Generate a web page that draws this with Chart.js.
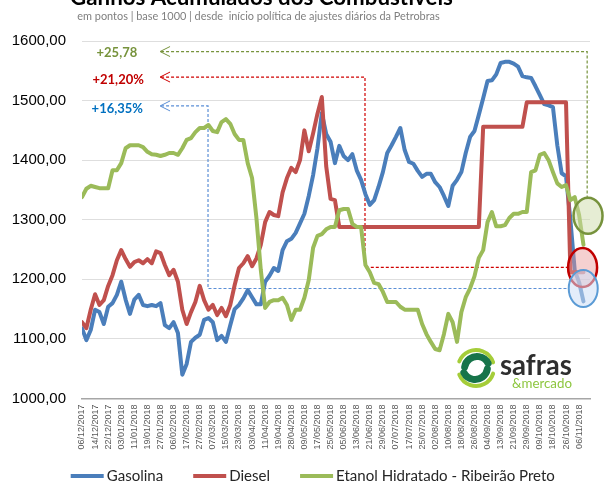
<!DOCTYPE html>
<html><head><meta charset="utf-8">
<script src="https://cdn.jsdelivr.net/npm/chart.js@4.4.1/dist/chart.umd.min.js"></script>
<style>html,body{margin:0;padding:0;background:#fff;overflow:hidden}#wrap{width:604px;height:484px;position:relative}</style>
</head><body><div id="wrap"><canvas id="c" width="604" height="484"></canvas></div>
<script>
// ---------- DATA ----------
const tickLabels = ['06/12/2017','14/12/2017','22/12/2017','03/01/2018','11/01/2018','19/01/2018','27/01/2018','06/02/2018','17/02/2018','27/02/2018','07/03/2018','15/03/2018','23/03/2018','03/04/2018','11/04/2018','19/04/2018','28/04/2018','09/05/2018','17/05/2018','25/05/2018','05/06/2018','13/06/2018','21/06/2018','29/06/2018','07/07/2018','17/07/2018','25/07/2018','02/08/2018','10/08/2018','18/08/2018','26/08/2018','04/09/2018','13/09/2018','21/09/2018','29/09/2018','09/10/2018','18/10/2018','26/10/2018','06/11/2018'];
const seriesNames = ['Gasolina','Diesel','Etanol Hidratado - Ribeirão Preto'];
// one value every 2 business days (tick labels every 6 business days)
const gasolina = [1118,1098,1115,1149,1145,1125,1154,1160,1174,1196,
1166,1142,1166,1174,1157,1155,1157,1155,1160,1123,
1118,1128,1110,1040,1058,1095,1102,1107,1132,1135,
1128,1098,1105,1095,1123,1150,1157,1168,1182,1170,
1158,1158,1196,1206,1219,1214,1249,1264,1268,1278,
1294,1310,1340,1375,1420,1479,1444,1431,1395,1424,
1407,1400,1410,1383,1367,1343,1325,1333,1355,1380,
1412,1425,1439,1454,1417,1397,1394,1382,1372,1377,
1377,1363,1355,1340,1323,1357,1367,1380,1412,1439,
1449,1476,1504,1533,1534,1544,1563,1565,1565,1562,
1557,1541,1539,1538,1524,1509,1494,1492,1489,1425,
1378,1373,1300,1215,1195,1163];
const diesel = [1128,1118,1149,1175,1157,1165,1189,1207,1232,1249,
1234,1221,1229,1232,1227,1234,1227,1247,1244,1224,
1207,1216,1196,1149,1125,1145,1162,1189,1165,1149,
1157,1140,1152,1138,1157,1190,1219,1227,1239,1222,
1235,1258,1296,1313,1308,1306,1346,1370,1387,1380,
1400,1450,1415,1445,1478,1506,1390,1335,1333,1288,
1288,1288,1288,1288,1288,1288,1288,1288,1288,1288,
1288,1288,1288,1288,1288,1288,1288,1288,1288,1288,
1288,1288,1288,1288,1288,1288,1288,1288,1288,1288,
1288,1288,1456,1456,1456,1456,1456,1456,1456,1456,
1456,1456,1497,1497,1497,1497,1497,1497,1497,1497,
1497,1497,1212,1212,1212,1212];
const etanol = [1338,1352,1357,1355,1353,1353,1353,1383,1383,1395,
1420,1425,1425,1425,1422,1414,1410,1409,1407,1409,
1412,1412,1409,1420,1434,1437,1447,1454,1454,1459,
1449,1447,1464,1469,1461,1444,1434,1434,1395,1370,
1303,1216,1152,1162,1165,1165,1169,1157,1132,1149,
1149,1169,1199,1253,1273,1276,1284,1288,1288,1316,
1318,1318,1293,1288,1288,1224,1212,1194,1192,1179,
1162,1162,1162,1154,1149,1149,1149,1149,1125,1108,
1095,1083,1081,1108,1142,1128,1095,1145,1170,1185,
1205,1236,1249,1296,1313,1289,1289,1291,1303,1310,
1310,1313,1313,1380,1383,1409,1412,1400,1380,1361,
1355,1358,1333,1338,1308,1258];
const STEP = 2;          // business days per sample
const LABEL_EVERY = 6;   // business days per tick label
const changes = ['+16,35%','+21,20%','+25,78'];

// ---------- STYLE ----------
const lineColors = ['#4a7ebb','#c0504d','#9bbb59'];
const noteColors = ['#0070c0','#c00000','#77933c'];
const dashColors = ['#5b8fd6','#d00000','#77933c'];

const toXY = arr => arr.map((v,j)=>({x:j*STEP, y:v}));

// annotation geometry in data units (x: business-day index, y: points)
const notes = [
  {text:changes[0], tx:16.2, ty:1486, level:1491, cornerX:57.8, low:1184.6, endX:222.9, ex:229.9, ey:1184.6},
  {text:changes[1], tx:16.6, ty:1535, level:1539.5, cornerX:129.8, low:1220.2, endX:222.9, ex:229.6, ey:1219.8},
  {text:changes[2], tx:16.0, ty:1581, level:1582.3, cornerX:231.7, low:1338, endX:null, ex:232.1, ey:1306.7}
];
const ARROW_X = 35.8;

function fitSize(ctx, text, weight, family, target){
  ctx.font = `${weight} 20px ${family}`;
  return 20*target/ctx.measureText(text).width;
}

const decor = {
  id:'decor',
  beforeDraw(chart){
    const c=chart.ctx; c.save(); c.fillStyle='#fff'; c.fillRect(0,0,chart.width,chart.height); c.restore();
  },
  beforeDatasetsDraw(chart){
    const c=chart.ctx, X=v=>chart.scales.x.getPixelForValue(v), Y=v=>chart.scales.y.getPixelForValue(v);
    c.save();
    notes.forEach((n,k)=>{
      c.strokeStyle=dashColors[k]; c.lineWidth=1.2; c.setLineDash([3,2]);
      c.beginPath();
      c.moveTo(X(ARROW_X)+1, Y(n.level));
      c.lineTo(X(n.cornerX), Y(n.level));
      c.lineTo(X(n.cornerX), Y(n.low));
      if(n.endX!==null) c.lineTo(X(n.endX), Y(n.low));
      c.stroke();
      c.setLineDash([]); c.lineWidth=1;
      const ax=X(ARROW_X), ay=Y(n.level);
      c.beginPath(); c.moveTo(ax+10, ay-5); c.lineTo(ax, ay); c.lineTo(ax+10, ay+5); c.stroke();
    });
    c.restore();
  },
  afterDatasetsDraw(chart){
    const c=chart.ctx, X=v=>chart.scales.x.getPixelForValue(v), Y=v=>chart.scales.y.getPixelForValue(v);
    const fills=['rgba(205,222,245,0.55)','rgba(232,150,150,0.45)','rgba(205,220,170,0.5)'];
    const rys=[18.5,19.5,18];
    c.save();
    [2,1,0].forEach(k=>{
      const n=notes[k];
      c.beginPath(); c.ellipse(X(n.ex), Y(n.ey), 14.5, rys[k], 0, 0, Math.PI*2);
      c.fillStyle=fills[k]; c.fill();
      c.lineWidth = k===0?2:2.5; c.strokeStyle = k===0?'#5b9bd5':(k===1?'#c00000':'#76923c'); c.stroke();
    });
    c.restore();
  },
  afterDraw(chart){
    const c=chart.ctx, X=v=>chart.scales.x.getPixelForValue(v), Y=v=>chart.scales.y.getPixelForValue(v);
    c.save();
    // title (cut at top) and subtitle
    const title='Ganhos Acumulados dos Combustíveis';
    let s=fitSize(c,title,'bold','Lato',383);
    c.font=`bold ${s}px Lato`; c.fillStyle='#000'; c.textAlign='center'; c.textBaseline='alphabetic';
    c.fillText(title, 261.5, 4.5);
    const sub='em pontos | base 1000 | desde  início política de ajustes diários da Petrobras';
    s=fitSize(c,sub,'normal','Lato',363);
    c.font=`${s}px Lato`; c.fillStyle='#7f7f7f';
    c.fillText(sub, 258.5, 19.5);
    // change labels
    c.font='bold 13px Lato'; c.textBaseline='middle';
    notes.forEach((n,k)=>{ c.fillStyle=noteColors[k]; c.fillText(n.text, X(n.tx), Y(n.ty)); });
    // legend
    s=fitSize(c,seriesNames[2],'normal','Lato',219);
    c.font=`${s}px Lato`; c.textAlign='left'; c.textBaseline='middle';
    let lx=70.7; const ly=476;
    seriesNames.forEach((name,k)=>{
      c.fillStyle=lineColors[k]; c.fillRect(lx, ly-2, 33, 4);
      c.fillStyle='#262626'; c.fillText(name, lx+36, ly+0.5);
      lx += 36 + c.measureText(name).width + 30;
    });
    // logo
    const cx=476, cy=368;
    c.lineCap='round';
    c.strokeStyle='#a5cd39'; c.lineWidth=4;
    c.beginPath(); c.arc(cx,cy,18,Math.PI*1.12,Math.PI*1.9); c.stroke();
    c.beginPath(); c.arc(cx,cy,18,Math.PI*0.1,Math.PI*0.88); c.stroke();
    c.strokeStyle='#17744a'; c.lineWidth=7;
    c.beginPath(); c.arc(cx+1,cy+1,12.5,Math.PI*1.05,Math.PI*1.85); c.stroke();
    c.beginPath(); c.arc(cx-1,cy-1,12.5,Math.PI*0.05,Math.PI*0.85); c.stroke();
    s=fitSize(c,'safras','bold','Lato',72);
    c.font=`bold ${s}px Lato`; c.fillStyle='#2e2e2e'; c.textAlign='left'; c.textBaseline='alphabetic';
    c.fillText('safras', 500, 375);
    s=fitSize(c,'&mercado','normal','Lato',60);
    c.font=`${s}px Lato`; c.fillStyle='#8dc63f';
    c.fillText('&mercado', 512, 388);
    c.restore();
  }
};

new Chart(document.getElementById('c'), {
  type:'line',
  data:{ datasets:[
    {label:seriesNames[0], data:toXY(gasolina), borderColor:lineColors[0], backgroundColor:lineColors[0], order:2},
    {label:seriesNames[1], data:toXY(diesel),   borderColor:lineColors[1], backgroundColor:lineColors[1], order:1},
    {label:seriesNames[2], data:toXY(etanol),   borderColor:lineColors[2], backgroundColor:lineColors[2], order:0}
  ]},
  options:{
    responsive:false, animation:false, devicePixelRatio:1,
    elements:{ line:{borderWidth:4, tension:0, borderJoinStyle:'round', borderCapStyle:'round'}, point:{radius:0, hoverRadius:0} },
    layout:{ padding:{top:41, right:14, left:0, bottom:0} },
    plugins:{ legend:{display:false}, title:{display:false}, tooltip:{enabled:false} },
    scales:{
      x:{ type:'linear', min:0, max:233,
        afterBuildTicks:s=>{ s.ticks = tickLabels.map((_,k)=>({value:k*LABEL_EVERY})); },
        afterFit:s=>{ s.height = 85.5; },
        grid:{ color:'rgba(0,0,0,0)', drawTicks:false },
        border:{ display:true, color:'#a6a6a6', width:1.5 },
        ticks:{ autoSkip:false, minRotation:90, maxRotation:90, padding:6, color:'#595959',
          font:{family:'Liberation Sans', size:9},
          callback:v=>tickLabels[Math.round(v/LABEL_EVERY)] ?? '' }
      },
      y:{ min:1000, max:1600,
        afterFit:s=>{ s.width = 82; },
        grid:{ color:'#dedede', lineWidth:1, drawTicks:false },
        border:{ display:false },
        ticks:{ stepSize:100, padding:16, color:'#000', font:{family:'Liberation Sans', size:15},
          callback:v=>v.toFixed(2).replace('.',',') }
      }
    }
  },
  plugins:[decor]
});
</script></body></html>
